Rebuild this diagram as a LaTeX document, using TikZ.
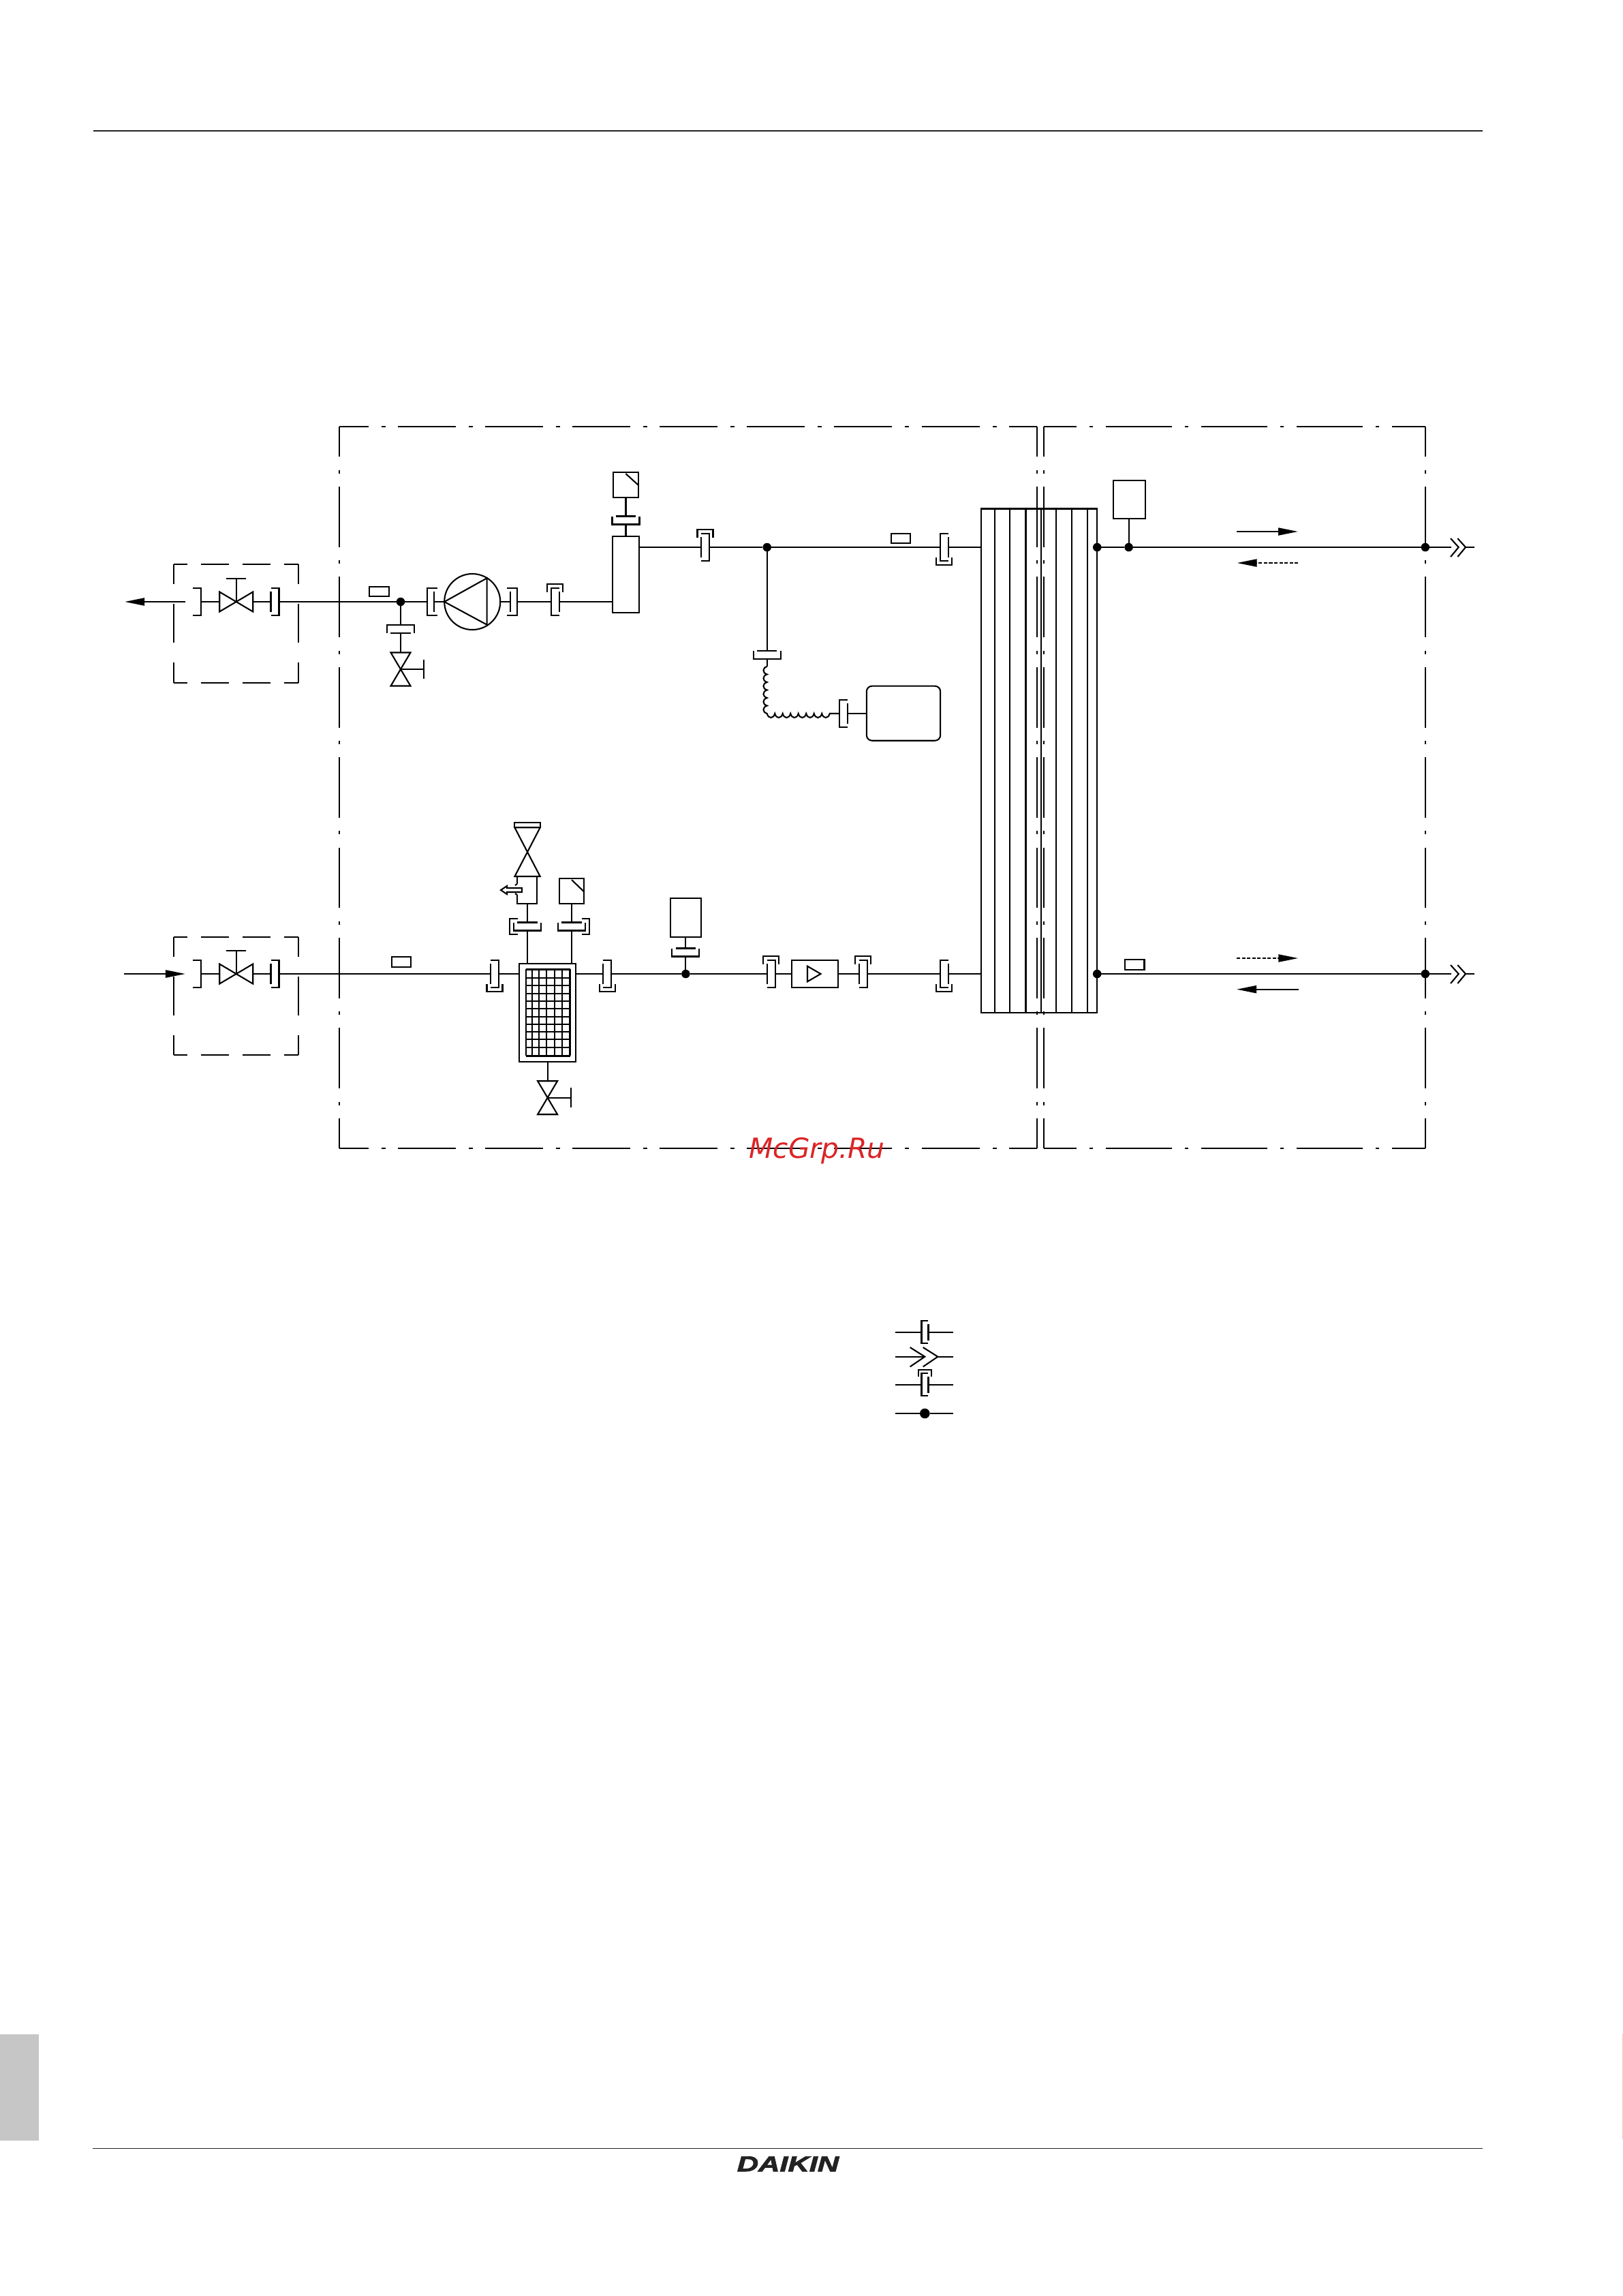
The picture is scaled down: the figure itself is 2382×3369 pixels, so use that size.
\documentclass[tikz,border=0pt]{standalone}
\usepackage{fontspec}
\usetikzlibrary{arrows.meta}
\newfontfamily\logofont[FakeStretch=1.37,FakeBold=3]{Liberation Sans}
\newfontfamily\markfont{DejaVu Sans}
\definecolor{rulegris}{RGB}{34,34,34}
\definecolor{tabgris}{RGB}{198,198,198}
\definecolor{marcarojo}{RGB}{220,36,38}
\definecolor{bordeapink}{RGB}{250,195,200}
\tikzset{
	pipe/.style={line width=.022cm},
	sym/.style={line width=.021cm},
	box/.style={draw,line width=.021cm,inner sep=0,outer sep=0,rectangle},
	joint/.style={circle,fill=black,inner sep=0,outer sep=0,minimum size=.125cm},
	framelh/.style={line width=.02cm,dash pattern=on .85cm off .19cm on .06cm off .18cm,dash phase=.42cm},
	framerh/.style={line width=.02cm,dash pattern=on .975cm off .19cm on .05cm off .185cm,dash phase=.49cm},
	framev/.style={line width=.02cm,dash pattern=on .887cm off .195cm on .05cm off .191cm,dash phase=.44cm},
	cabh/.style={line width=.02cm,dash pattern=on .41cm off .2cm,dash phase=.21cm},
	cabv/.style={line width=.02cm,dash pattern=on .57cm off .29cm,dash phase=.28cm},
	flowtip/.style={-{Triangle[length=.29cm,width=.11cm]}},
	union/.pic={
		\draw[sym] (6,-20) -- (-6,-20) -- (-6,20) -- (6,20);
		\draw[sym] (6,-14.7) -- (6,14.7);
		\coordinate (-brk) at (-6,0);
		\coordinate (-lin) at (6,0);
	},
	unioncap/.pic={
		\draw[sym] (6,-20) -- (-6,-20) -- (-6,20) -- (6,20);
		\draw[sym] (6,-14.7) -- (6,14.7);
		\draw[sym] (-11.5,-14.5) -- (-11.5,-26) -- (11.5,-26) -- (11.5,-14.5);
		\coordinate (-brk) at (-6,0);
		\coordinate (-lin) at (6,0);
	},
	pumpunion/.pic={
		\draw[sym] (7.5,-20) -- (-7.5,-20) -- (-7.5,20) -- (7.5,20);
		\draw[sym] (2.7,-15) -- (2.7,15);
		\coordinate (-brk) at (-7.5,0);
		\coordinate (-lin) at (2.7,0);
	},
	bracketonly/.pic={
		\draw[sym] (6.4,-20) -- (-6.4,-20) -- (-6.4,20) -- (6.4,20);
		\coordinate (-brk) at (-6.4,0);
	},
	gatevalve/.pic={
		\draw[sym] (-24.5,-14.5) -- (24.5,14.5) -- (24.5,-14.5) -- (-24.5,14.5) -- cycle;
		\draw[sym] (0,0) -- (0,-34);
		\draw[sym] (-14.4,-34) -- (14.4,-34);
		\coordinate (-a) at (-24.5,0);
		\coordinate (-b) at (24.5,0);
	},
	quickjoint/.pic={
		\draw[sym] (-11.7,-13) -- (0,0) -- (-11.7,14);
		\draw[sym] (-1.4,-13) -- (10.3,0) -- (-1.4,14);
		\coordinate (-in) at (-10.5,0);
		\coordinate (-tip) at (0,0);
		\coordinate (-out) at (10.3,0);
	}
}

\begin{document}
\begin{tikzpicture}[x=.01cm,y=-.01cm]
	\useasboundingbox (0,0) rectangle (2382,3369);

	% page furniture
	\draw[rulegris,line width=.016cm] (137,192) -- (2176,192);
	\draw[rulegris,line width=.016cm] (136,3152.3) -- (2176,3152.3);
	\fill[tabgris] (0,2985) rectangle (57,3141);
	\fill[bordeapink] (2380.8,2984) rectangle (2382,3139);
	\node[anchor=base,inner sep=0,rulegris] (daikin) at (1156.5,3186) {\logofont\fontsize{9}{10}\selectfont\bfseries\itshape DAIKIN};

	% unit frames
	\draw[framelh] (498,625.7) -- (1522.4,625.7);
	\draw[framelh] (498,1685) -- (1522.4,1685);
	\draw[framerh] (1531.6,625.7) -- (2091.8,625.7);
	\draw[framerh] (1531.6,1685) -- (2091.8,1685);
	\foreach \fx in {498,1522.4,1531.6,2091.8}
		\draw[framev] (\fx,625.7) -- (\fx,1685);

	% field supplied valves
	\foreach \cy/\cb in {828/1002,1374.7/1548} {
		\draw[cabh] (254.9,\cy) -- (438,\cy);
		\draw[cabh] (254.9,\cb) -- (438,\cb);
		\draw[cabv] (254.9,\cy) -- (254.9,\cb);
		\draw[cabv] (438,\cy) -- (438,\cb);
	}

	% heat exchanger
	\node[box,minimum width=1.704cm,minimum height=7.393cm] (hx) at (1525,1116.4) {};
	\foreach \hx in {1460.2,1482.1,1505.5,1528,1550,1573,1596}
		\draw[sym] (\hx,746.7) -- (\hx,1486);

	% top circuit
	\coordinate (outtip) at (183,883);
	\coordinate (outend) at (272,883);
	\pic (ua) at (289,883) [xscale=-1] {bracketonly};
	\pic (va) at (346.7,883) {gatevalve};
	\pic (ub) at (403.5,883) [xscale=-1] {union};
	\node[box,minimum width=.286cm,minimum height=.148cm] (ta) at (556.4,868) {};
	\node[joint] (ja) at (588,883) {};
	\pic (uc) at (634.4,883) {pumpunion};
	\node[draw,circle,line width=.021cm,inner sep=0,outer sep=0,minimum size=.82cm] (pump) at (693.2,883) {};
	\draw[sym] (pump.west) -- (714.6,848.3) -- (714.6,916.7) -- cycle;
	\pic (ud) at (751.9,883) [xscale=-1] {pumpunion};
	\pic (ue) at (814.85,883) {unioncap};
	\node[box,minimum width=.394cm,minimum height=1.125cm] (tank) at (918.5,843) {};

	\draw[pipe,flowtip] (outend) -- (outtip);
	\draw[pipe] (ua-brk) -- (va-a);
	\draw[pipe] (va-b) -- (ub-lin);
	\draw[pipe] (ub-brk) -- (ja);
	\draw[pipe] (ja) -- (uc-brk);
	\draw[pipe] (uc-lin) -- (pump.west);
	\draw[pipe] (pump.east) -- (ud-lin);
	\draw[pipe] (ud-brk) -- (ue-brk);
	\draw[pipe] (ue-lin) -- (ue-lin -| tank.west);

	% drain at the pump
	\pic (uf) at (588,923.3) [rotate=-90] {union};
	\pic (da) at (588,982) [rotate=-90] {gatevalve};
	\draw[sym] (ja) -- (uf-brk);
	\draw[sym] (uf-lin) -- (da-a);

	% air purge on the tank
	\node[box,minimum width=.371cm,minimum height=.367cm] (pa) at (918.8,711.7) {};
	\draw[sym] (918.3,695) -- (937.4,712.3);
	\pic (ug) at (918.5,763.5) [rotate=90] {union};
	\draw[sym] (pa.south -| ug-lin) -- (ug-lin);
	\draw[sym] (ug-brk) -- (ug-brk |- tank.north);

	% top line to the exchanger
	\pic (uh) at (1035,803) [xscale=-1] {unioncap};
	\node[joint] (jb) at (1125.7,803) {};
	\node[box,minimum width=.283cm,minimum height=.143cm] (tb) at (1322,789.8) {};
	\pic (ui) at (1385.8,803) [yscale=-1] {unioncap};
	\draw[pipe] (uh-lin -| tank.east) -- (uh-lin);
	\draw[pipe] (uh-brk) -- (jb);
	\draw[pipe] (jb) -- (ui-brk);
	\draw[pipe] (ui-lin) -- (ui-lin -| hx.west);

	% expansion vessel
	\pic (uj) at (1125.7,961.3) [rotate=90] {union};
	\pic (uk) at (1238.2,1047) {union};
	\node[box,rounded corners=.08cm,minimum width=1.083cm,minimum height=.8cm] (vessel) at (1326,1046.7) {};
	\coordinate (coilin) at (1125.7,978);
	\draw[sym] (jb) -- (uj-lin);
	\draw[sym] (uj-brk) -- (coilin);
	\draw[sym] (coilin) \foreach \k in {1,...,6} { .. controls +(-7,2) and +(-7,-2) .. ++(0,11.5) } \foreach \k in {1,...,8} { .. controls +(2,8) and +(-2,8) .. ++(11.5,0) } -- (uk-brk);
	\draw[sym] (uk-lin) -- (vessel.west |- uk-lin);

	% outgoing water side
	\node[joint] (jc) at (1610.2,803) {};
	\node[joint] (jd) at (1656.6,803) {};
	\node[joint] (je) at (2091.8,803) {};
	\node[box,minimum width=.464cm,minimum height=.566cm] (tc) at (1657.4,733) {};
	\pic (qa) at (2140.7,803) {quickjoint};
	\coordinate (qaend) at (2163.8,803);
	\draw[pipe] (hx.east |- jc) -- (jc);
	\draw[pipe] (jc) -- (jd);
	\draw[pipe] (jd) -- (je);
	\draw[pipe] (je) -- (qa-in);
	\draw[pipe] (qa-out) -- (qaend);
	\draw[sym] (jd) -- (jd |- tc.south);
	\coordinate (fa) at (1815,780);
	\coordinate (fb) at (1905,780);
	\coordinate (fc) at (1905,826);
	\coordinate (fd) at (1815.5,826);
	\draw[sym,flowtip] (fa) -- (fb);
	\draw[sym,flowtip,dash pattern=on .05cm off .025cm] (fc) -- (fd);

	% bottom circuit
	\coordinate (intail) at (182,1429);
	\coordinate (intip) at (272,1429);
	\pic (ul) at (289,1429) [xscale=-1] {bracketonly};
	\pic (vb) at (346.7,1429) {gatevalve};
	\pic (um) at (403.5,1429) [xscale=-1] {union};
	\node[box,minimum width=.286cm,minimum height=.15cm] (td) at (589.1,1411.2) {};
	\pic (un) at (726,1429) [xscale=-1,yscale=-1] {unioncap};
	\node[box,minimum width=.832cm,minimum height=1.446cm] (strainer) at (803.6,1486) {};
	\pic (uo) at (891.3,1429) [xscale=-1,yscale=-1] {unioncap};
	\node[joint] (jf) at (1006.4,1429) {};
	\pic (up) at (1131.6,1429) [xscale=-1] {unioncap};
	\node[box,minimum width=.685cm,minimum height=.406cm] (flow) at (1195.9,1429) {};
	\draw[sym] (1185,1417.7) -- (1204.5,1429) -- (1185,1440.3) -- cycle;
	\pic (uq) at (1266.7,1429) [xscale=-1] {unioncap};
	\pic (ur) at (1385.8,1429) [yscale=-1] {unioncap};

	\draw[pipe,flowtip] (intail) -- (intip);
	\draw[pipe] (ul-brk) -- (vb-a);
	\draw[pipe] (vb-b) -- (um-lin);
	\draw[pipe] (um-brk) -- (un-lin);
	\draw[pipe] (un-brk) -- (un-brk -| strainer.west);
	\draw[pipe] (uo-lin -| strainer.east) -- (uo-lin);
	\draw[pipe] (uo-brk) -- (jf);
	\draw[pipe] (jf) -- (up-lin);
	\draw[pipe] (up-brk) -- (flow.west);
	\draw[pipe] (flow.east) -- (uq-lin);
	\draw[pipe] (uq-brk) -- (ur-brk);
	\draw[pipe] (ur-lin) -- (ur-lin -| hx.west);

	% strainer mesh
	\draw[line width=.03cm] (771.7,1422) -- (836.5,1422);
	\draw[line width=.03cm] (771.7,1549) -- (836.5,1549);
	\draw[line width=.022cm] (771.7,1422) -- (771.7,1549);
	\draw[line width=.022cm] (836.5,1422) -- (836.5,1549);
	\foreach \gx in {780.9,791.2,801.6,814,825.1}
		\draw[sym] (\gx,1422) -- (\gx,1549);
	\foreach \gy in {1434.7,1446.3,1458.3,1469.3,1480,1491.7,1503.3,1514,1525.3,1537.3}
		\draw[sym] (771.7,\gy) -- (836.5,\gy);

	% drain of the strainer
	\pic (db) at (803.6,1610.7) [rotate=-90] {gatevalve};
	\draw[sym] (strainer.south) -- (db-a);

	% relief valve
	\pic (us) at (774,1359.5) [rotate=90] {unioncap};
	\coordinate (rv) at (774,1326);
	\draw[sym] (us-brk) -- (us-brk |- strainer.north);
	\draw[sym] (us-lin) -- (rv);
	\draw[sym] (759,1297) -- (759,1286) -- (788,1286) -- (788,1326) -- (759,1326) -- (759,1313);
	\draw[sym] (759,1297) -- (756,1299);
	\draw[sym] (759,1313) -- (756,1311);
	\draw[sym] (735,1306) -- (744,1300) -- (744,1303) -- (766,1303) -- (766,1309) -- (744,1309) -- (744,1312) -- cycle;
	\draw[sym] (755.4,1214.3) -- (792.7,1286) -- (755.4,1286) -- (792.7,1214.3) -- cycle;
	\draw[sym] (755.4,1206.7) rectangle (792.7,1214.3);

	% sensor on the strainer
	\pic (ut) at (839,1359.5) [rotate=90,yscale=-1] {unioncap};
	\node[box,minimum width=.358cm,minimum height=.367cm] (pb) at (839,1307.7) {};
	\draw[sym] (839,1291) -- (857,1308.3);
	\draw[sym] (ut-brk) -- (ut-brk |- strainer.north);
	\draw[sym] (ut-lin) -- (ut-lin |- pb.south);

	% sensor before the flow switch
	\pic (uu) at (1006.4,1397.5) [rotate=90] {union};
	\node[box,minimum width=.455cm,minimum height=.573cm] (te) at (1006.4,1346.4) {};
	\draw[sym] (jf) -- (uu-brk);
	\draw[sym] (uu-lin) -- (uu-lin |- te.south);

	% return side
	\node[joint] (jg) at (1610.2,1429) {};
	\node[joint] (jh) at (2091.8,1429) {};
	\node[box,minimum width=.287cm,minimum height=.156cm] (tf) at (1665.1,1415.5) {};
	\pic (qb) at (2140.7,1429) {quickjoint};
	\coordinate (qbend) at (2163.8,1429);
	\draw[pipe] (hx.east |- jg) -- (jg);
	\draw[pipe] (jg) -- (jh);
	\draw[pipe] (jh) -- (qb-in);
	\draw[pipe] (qb-out) -- (qbend);
	\coordinate (fe) at (1815,1406);
	\coordinate (ff) at (1905.3,1406);
	\coordinate (fg) at (1906,1451.7);
	\coordinate (fh) at (1815,1451.7);
	\draw[sym,flowtip,dash pattern=on .05cm off .025cm] (fe) -- (ff);
	\draw[sym,flowtip] (fg) -- (fh);

	% legend
	\foreach \ly/\ln in {1954.7/a,1990.7/b,2031.7/c,2074/d} {
		\coordinate (ll\ln) at (1314.3,\ly);
		\coordinate (lr\ln) at (1399.3,\ly);
	}
	\pic (lgu) at (1357.5,1954.7) [scale=.83] {union};
	\draw[sym] (lla) -- (lgu-brk);
	\draw[sym] (lgu-lin) -- (lra);
	\pic (lgq) at (1357.3,1990.7) [xscale=1.85,yscale=1.05] {quickjoint};
	\draw[sym] (llb) -- (lgq-tip);
	\draw[sym] (lgq-out) -- (lrb);
	\pic (lgc) at (1357.5,2031.7) [scale=.83] {unioncap};
	\draw[sym] (llc) -- (lgc-brk);
	\draw[sym] (lgc-lin) -- (lrc);
	\node[joint,minimum size=.146cm] (lgj) at (1357.3,2074) {};
	\draw[sym] (lld) -- (lgj);
	\draw[sym] (lgj) -- (lrd);

	\node[anchor=base west,inner sep=0,marcarojo] (mark) at (1099,1699) {\markfont\fontsize{11.6}{12}\selectfont\itshape McGrp.Ru};
\end{tikzpicture}
\end{document}
